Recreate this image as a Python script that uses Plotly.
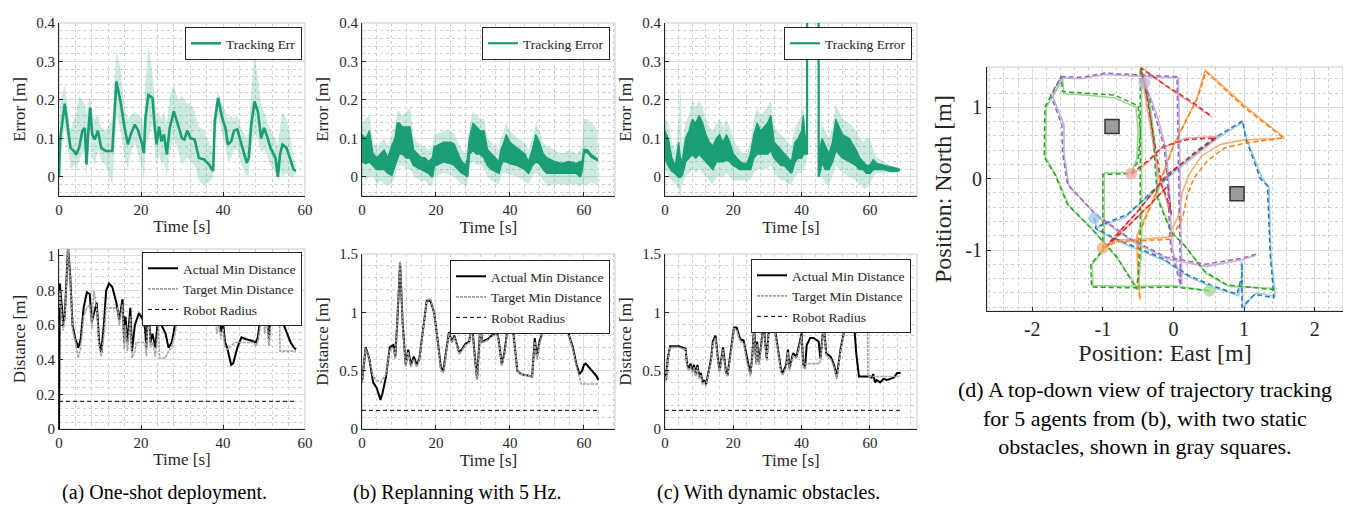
import plotly.graph_objects as go

FONT = "Liberation Serif"
INK = "#262626"
GREEN = "#1b9e77"
GREEN_LIGHT = "rgba(27,158,119,0.22)"

# ---------------- (a) tracking error ----------------
t_err_a = [0, 0.3, 1.4, 2.8, 3.7, 4.2, 4.9, 5.7, 6.3, 6.7, 7.1, 7.6, 8.1, 8.7, 9.5,
           10.3, 11.4, 13, 14, 15, 16, 16.8, 17.5, 18.5, 19.3, 20.3, 20.7, 21.1, 21.8, 22.8,
           23.3, 23.8, 24.4, 25, 25.6, 26.3, 27, 28, 29, 30, 30.6, 31.3, 32.1, 33.1, 34.1,
           35.4, 36.6, 37.6, 38, 38.8, 39.8, 40.6, 41.2, 42, 42.7, 43.5, 44.3, 45.3, 45.8, 46.3,
           46.9, 47.7, 48.5, 49.3, 50, 50.6, 51.6, 52.8, 53.4, 53.9, 54.5, 55.5, 56.5, 57.2, 57.8]
err_a = [0.0, 0.10, 0.19, 0.075, 0.066, 0.058, 0.075, 0.12, 0.127, 0.032, 0.11, 0.18, 0.11, 0.097, 0.12,
         0.075, 0.067, 0.067, 0.248, 0.196, 0.127, 0.084, 0.11, 0.136, 0.12, 0.084, 0.062, 0.153, 0.213, 0.205,
         0.136, 0.084, 0.13, 0.092, 0.11, 0.058, 0.127, 0.17, 0.136, 0.10, 0.097, 0.12, 0.10, 0.097, 0.049,
         0.045, 0.032, 0.015, 0.145, 0.205, 0.153, 0.127, 0.084, 0.092, 0.12, 0.123, 0.092, 0.058, 0.036, 0.05,
         0.136, 0.196, 0.17, 0.10, 0.127, 0.11, 0.075, 0.049, 0.0, 0.058, 0.084, 0.075, 0.04, 0.019, 0.015]
err_a_hi = [0.0, 0.20, 0.24, 0.12, 0.15, 0.17, 0.21, 0.20, 0.19, 0.16, 0.19, 0.21, 0.17, 0.15, 0.16,
            0.13, 0.12, 0.15, 0.33, 0.28, 0.18, 0.15, 0.16, 0.17, 0.16, 0.15, 0.13, 0.25, 0.34, 0.27,
            0.21, 0.16, 0.17, 0.15, 0.17, 0.14, 0.21, 0.24, 0.20, 0.21, 0.20, 0.19, 0.19, 0.17, 0.13,
            0.12, 0.09, 0.06, 0.17, 0.22, 0.19, 0.17, 0.15, 0.16, 0.15, 0.16, 0.13, 0.11, 0.10, 0.12,
            0.22, 0.32, 0.26, 0.19, 0.17, 0.15, 0.12, 0.10, 0.08, 0.13, 0.17, 0.15, 0.10, 0.05, 0.03]
err_a_lo = [0.0, 0.05, 0.13, 0.02, 0.03, 0.02, 0.04, 0.06, 0.07, 0.0, 0.05, 0.12, 0.05, 0.03, 0.07,
            0.04, 0.03, -0.02, 0.16, 0.12, 0.05, 0.02, 0.06, 0.09, 0.06, 0.02, -0.01, 0.08, 0.10, 0.14,
            0.07, 0.03, 0.06, 0.03, 0.04, 0.0, 0.06, 0.10, 0.07, 0.03, 0.04, 0.05, 0.04, 0.03, -0.01,
            -0.02, -0.015, 0.0, 0.10, 0.16, 0.11, 0.08, 0.04, 0.05, 0.07, 0.07, 0.04, 0.01, 0.0, 0.01,
            0.08, 0.11, 0.10, 0.06, 0.07, 0.06, 0.03, 0.01, -0.01, 0.02, 0.0, 0.01, 0.0, 0.0, 0.01]

# ---------------- (b) tracking error (envelopes) ----------------
t_err_b = [0, 1, 2, 3, 4, 5, 6, 7, 8, 8.9, 9.5, 10, 11, 12, 13, 14, 15, 16, 17, 18,
           19, 19.5, 20, 22, 24, 25, 26, 27, 28, 28.5, 29, 30, 31, 32, 33, 34, 35, 36, 37, 37.5,
           38, 39, 40, 42, 44, 45, 46, 47, 48, 49, 50, 52, 54, 56, 58, 59, 59.5, 60, 61, 62, 63, 63.7]
err_b_hi = [0.11, 0.10, 0.12, 0.06, 0.05, 0.06, 0.07, 0.05, 0.08, 0.10, 0.14, 0.14, 0.13, 0.13, 0.13,
            0.07, 0.06, 0.05, 0.05, 0.04, 0.05, 0.08, 0.08, 0.09, 0.09, 0.085, 0.06, 0.04, 0.03, 0.05,
            0.10, 0.14, 0.13, 0.12, 0.12, 0.07, 0.06, 0.05, 0.04, 0.07, 0.08, 0.11, 0.09, 0.075, 0.06,
            0.04, 0.07, 0.11, 0.09, 0.06, 0.05, 0.04, 0.035, 0.04, 0.035, 0.04, 0.04, 0.072, 0.07, 0.058,
            0.052, 0.047]
err_b_lo = [0.04, 0.035, 0.04, 0.03, 0.02, 0.02, 0.02, 0.01, 0.005, 0.03, 0.05, 0.06, 0.06, 0.05, 0.05,
            0.03, 0.025, 0.02, 0.015, 0.01, 0.0, 0.03, 0.03, 0.04, 0.035, 0.03, 0.02, 0.01, 0.005, 0.0,
            0.06, 0.07, 0.06, 0.06, 0.05, 0.03, 0.02, 0.015, 0.01, 0.03, 0.04, 0.04, 0.035, 0.03, 0.02,
            0.01, 0.03, 0.04, 0.035, 0.02, 0.01, 0.01, 0.01, 0.01, 0.01, 0.0, 0.02, 0.064, 0.064, 0.052,
            0.046, 0.043]
band_b_hi = [0.14, 0.15, 0.16, 0.09, 0.08, 0.09, 0.10, 0.08, 0.11, 0.13, 0.17, 0.17, 0.16, 0.17, 0.18,
             0.10, 0.09, 0.08, 0.08, 0.07, 0.08, 0.11, 0.11, 0.12, 0.12, 0.11, 0.09, 0.07, 0.06, 0.08,
             0.13, 0.17, 0.16, 0.15, 0.15, 0.10, 0.09, 0.08, 0.07, 0.10, 0.11, 0.14, 0.12, 0.10, 0.09,
             0.07, 0.10, 0.14, 0.12, 0.09, 0.08, 0.07, 0.06, 0.07, 0.06, 0.07, 0.08, 0.15, 0.15, 0.14,
             0.13, 0.12]
band_b_lo = [0.0, -0.01, 0.0, 0.0, -0.02, -0.01, -0.02, -0.02, -0.02, 0.0, 0.02, 0.03, 0.03, 0.02, 0.02,
             0.0, -0.005, -0.01, -0.01, -0.02, -0.025, 0.0, 0.0, 0.01, 0.005, 0.0, -0.01, -0.02, -0.02, -0.025,
             0.03, 0.04, 0.03, 0.03, 0.02, 0.0, -0.01, -0.015, -0.02, 0.0, 0.01, 0.01, 0.005, 0.0, -0.01,
             -0.02, 0.0, 0.01, 0.005, -0.01, -0.025, -0.02, -0.02, -0.02, -0.02, -0.025, -0.02, -0.02, -0.02, -0.015,
             -0.02, -0.02]

# ---------------- (c) tracking error (envelopes) ----------------
t_err_c = [0, 1, 2, 3, 4, 4.5, 5, 6, 7, 8, 9, 10, 11, 12, 13, 14, 15, 16, 17, 18,
           19, 20, 21, 22, 23, 24, 25, 26, 27, 28, 29, 30, 31, 32, 33, 34, 35, 36, 37, 38,
           39, 40, 40.5, 41.3, 41.6, 41.7, 44.8, 44.9, 45, 46, 47, 48, 49, 50, 51, 52, 54, 56, 57, 58,
           59, 60, 61, 62, 64, 66, 68, 68.6]
err_c_hi = [0.12, 0.10, 0.05, 0.03, 0.09, 0.05, 0.04, 0.10, 0.12, 0.15, 0.14, 0.16, 0.14, 0.11, 0.09,
            0.08, 0.10, 0.11, 0.09, 0.11, 0.09, 0.06, 0.05, 0.04, 0.035, 0.035, 0.06, 0.11, 0.14, 0.12,
            0.13, 0.14, 0.16, 0.09, 0.08, 0.07, 0.06, 0.05, 0.04, 0.09, 0.10, 0.12, 0.16, 0.08, 0.10,
            2.0, 2.0, 2.0, 0.06, 0.10, 0.08, 0.06, 0.09, 0.15, 0.13, 0.11, 0.10, 0.07, 0.05, 0.04,
            0.03, 0.03, 0.045, 0.035, 0.03, 0.025, 0.022, 0.02]
err_c_lo = [0.05, 0.03, 0.015, 0.01, 0.0, 0.0, 0.005, 0.04, 0.05, 0.06, 0.05, 0.06, 0.05, 0.04, 0.03,
            0.02, 0.04, 0.04, 0.04, 0.045, 0.04, 0.03, 0.025, 0.02, 0.02, 0.02, 0.02, 0.05, 0.06, 0.06,
            0.06, 0.06, 0.07, 0.05, 0.04, 0.03, 0.03, 0.02, 0.01, 0.04, 0.05, 0.05, 0.06, 0.06, 0.06,
            2.0, 2.0, 2.0, 0.0, 0.04, 0.02, 0.02, 0.04, 0.07, 0.06, 0.05, 0.04, 0.03, 0.02, 0.02,
            0.01, 0.01, 0.02, 0.02, 0.02, 0.015, 0.015, 0.017]
band_c_hi = [0.15, 0.14, 0.09, 0.07, 0.14, 0.26, 0.08, 0.14, 0.16, 0.20, 0.18, 0.20, 0.18, 0.15, 0.13,
             0.12, 0.14, 0.15, 0.13, 0.15, 0.13, 0.10, 0.08, 0.07, 0.06, 0.06, 0.09, 0.15, 0.18, 0.16,
             0.17, 0.18, 0.20, 0.13, 0.12, 0.11, 0.10, 0.09, 0.08, 0.13, 0.14, 0.16, 0.19, 0.10, 0.10,
             2.0, 2.0, 2.0, 0.06, 0.14, 0.12, 0.10, 0.13, 0.19, 0.17, 0.15, 0.14, 0.12, 0.10, 0.09,
             0.10, 0.10, 0.07, 0.05, 0.04, 0.03, 0.025, 0.02]
band_c_lo = [0.02, 0.0, -0.01, -0.02, -0.03, -0.06, -0.02, 0.0, 0.01, 0.02, 0.01, 0.02, 0.01, 0.0, -0.01,
             -0.02, 0.0, 0.0, 0.0, 0.01, 0.0, -0.01, -0.01, -0.01, -0.01, -0.01, -0.01, 0.01, 0.02, 0.02,
             0.02, 0.02, 0.03, 0.01, 0.0, -0.01, -0.01, -0.02, -0.02, 0.0, 0.01, 0.01, 0.02, 0.03, 0.06,
             2.0, 2.0, 2.0, 0.0, 0.0, -0.02, -0.02, 0.0, 0.03, 0.02, 0.01, 0.0, -0.01, -0.02, -0.03,
             -0.03, -0.02, 0.0, 0.01, 0.01, 0.01, 0.01, 0.015]

# ---------------- (a) distances ----------------
t_dist_a = [0, 0.05, 0.2, 0.8, 1.0, 1.4, 2.2, 2.7, 3.3, 4.0, 4.7, 5.3, 6.0, 6.8, 7.5, 8.0, 8.5, 9.2, 9.8, 10.3,
            11.0, 11.5, 12.2, 13.0, 14.0, 14.7, 15.5, 15.9, 16.2, 16.7, 17.4, 17.8, 18.5, 19.5, 20.5, 21.0, 21.3, 21.8, 22.3, 22.8,
            23.5, 24.3, 25.0, 26.0, 26.7, 27.5, 28.3, 29.0, 29.5, 34.0, 38.0, 38.5, 39.0, 39.5, 40.0, 40.5, 41.0, 41.5, 42.0, 42.5,
            43.5, 44.5, 45.5, 47.0, 48.0, 48.5, 49.0, 49.5, 50.2, 50.6, 51.2, 51.7, 52.2, 53.0, 54.0, 54.5, 55.5, 56.5, 57.3, 57.8]
actual_a = [0.0, 0.84, 0.84, 0.68, 0.6, 0.65, 1.05, 0.9, 0.6, 0.52, 0.47, 0.52, 0.7, 0.79, 0.78, 0.62, 0.66, 0.73, 0.5, 0.44,
            0.62, 0.8, 0.84, 0.82, 0.73, 0.63, 0.75, 0.5, 0.65, 0.5, 0.7, 0.45, 0.6, 0.67, 0.63, 0.58, 0.47, 0.76, 0.5, 0.55,
            0.47, 0.68, 0.6, 0.55, 0.47, 0.5, 0.6, 0.7, 0.85, 0.95, 0.72, 0.6, 0.65, 0.56, 0.62, 0.5, 0.47, 0.42, 0.37, 0.38,
            0.47, 0.53, 0.52, 0.51, 0.5, 0.53, 0.62, 0.75, 0.6, 0.7, 0.52, 0.68, 0.72, 0.8, 0.8, 0.62, 0.56, 0.5, 0.47, 0.46]
t_target_a = [0, 0.2, 0.8, 1.0, 1.4, 2.2, 2.7, 3.3, 4.0, 4.7, 5.3, 6.0, 6.8, 7.5, 8.0, 8.5, 9.2, 9.8, 10.3, 11.0,
              11.5, 14.3, 14.7, 15.5, 15.9, 16.2, 16.7, 17.4, 17.8, 18.5, 18.8, 20.3, 21.0, 21.3, 21.8, 22.3, 22.8, 23.5, 24.3, 24.5,
              26.0, 26.7, 27.5, 28.3, 29.0, 29.5, 34.0, 38.0, 38.5, 39.0, 39.5, 40.0, 40.5, 41.0, 43.0, 47.5, 48.0, 48.5, 49.0, 49.5,
              50.2, 50.6, 51.2, 51.7, 52.0, 53.8, 53.9, 57.8]
target_a = [0.7, 0.8, 0.62, 0.57, 0.63, 1.05, 0.88, 0.58, 0.5, 0.41, 0.47, 0.65, 0.7, 0.72, 0.58, 0.8, 0.7, 0.47, 0.42, 0.55,
            0.7, 0.7, 0.6, 0.72, 0.46, 0.6, 0.45, 0.65, 0.41, 0.45, 0.5, 0.5, 0.5, 0.42, 0.72, 0.47, 0.5, 0.42, 0.6, 0.41,
            0.41, 0.45, 0.47, 0.55, 0.65, 0.85, 0.9, 0.68, 0.55, 0.6, 0.52, 0.58, 0.47, 0.46, 0.5, 0.5, 0.48, 0.5, 0.58, 0.72,
            0.55, 0.68, 0.48, 0.62, 0.69, 0.69, 0.45, 0.45]

# ---------------- (b) distances ----------------
t_dist_b = [0, 0.5, 1.0, 1.5, 2.0, 3.0, 4.0, 5.0, 5.5, 6.5, 7.5, 8.5, 9.0, 9.5, 10.3, 11.0, 11.8, 12.5, 13.2, 14.0,
            14.8, 15.5, 16.5, 17.5, 18.5, 19.5, 20.5, 21.3, 22.0, 22.5, 23.5, 24.3, 25.0, 26.3, 27.0, 28.0, 29.0, 29.7, 30.5, 31.1,
            32.0, 32.5, 34.0, 35.0, 36.5, 37.0, 37.8, 38.5, 39.5, 40.3, 41.0, 42.0, 43.0, 45.0, 46.0, 46.7, 47.3, 48.0, 49.0, 50.0,
            51.0, 52.0, 53.0, 54.0, 55.0, 56.0, 57.0, 58.0, 58.8, 59.5, 60.0, 60.5, 61.5, 62.5, 63.5, 63.9]
actual_b = [0.4, 0.55, 0.7, 0.65, 0.6, 0.4, 0.35, 0.25, 0.3, 0.45, 0.7, 0.72, 0.62, 0.9, 1.42, 0.9, 0.55, 0.68, 0.55, 0.62,
            0.55, 0.6, 0.85, 1.1, 1.1, 1.0, 0.75, 0.53, 0.5, 0.6, 0.83, 0.75, 0.8, 0.65, 0.68, 0.73, 0.75, 0.92, 0.62, 0.43,
            0.88, 0.75, 0.77, 0.8, 0.83, 0.75, 0.55, 0.65, 0.9, 1.05, 0.8, 0.5, 0.47, 0.46, 0.45, 0.78, 0.62, 0.75, 0.85, 1.0,
            0.95, 0.93, 1.0, 1.05, 1.0, 0.8, 0.7, 0.55, 0.47, 0.5, 0.55, 0.56, 0.52, 0.48, 0.45, 0.42]
t_target_b = [0, 0.5, 1.0, 1.5, 2.0, 3.0, 4.0, 5.0, 5.5, 6.5, 7.5, 8.5, 9.0, 9.5, 10.3, 11.0, 11.8, 12.5, 13.2, 14.0,
              14.8, 15.5, 16.5, 17.5, 18.5, 19.5, 20.5, 21.3, 22.0, 22.5, 23.5, 24.3, 25.0, 26.3, 27.0, 28.0, 29.0, 29.7, 30.5, 31.1,
              32.0, 32.5, 34.0, 35.0, 36.5, 37.0, 37.8, 38.5, 39.5, 40.3, 41.0, 42.0, 43.0, 45.0, 46.0, 46.7, 47.3, 48.0, 49.0, 50.0,
              51.0, 52.0, 53.0, 54.0, 55.0, 56.0, 57.0, 58.0, 58.8, 59.3, 63.9]
target_b = [0.4, 0.55, 0.69, 0.64, 0.6, 0.45, 0.42, 0.4, 0.42, 0.47, 0.68, 0.7, 0.6, 0.88, 1.44, 0.88, 0.53, 0.66, 0.53, 0.6,
            0.53, 0.59, 0.85, 1.1, 1.12, 1.0, 0.75, 0.5, 0.48, 0.58, 0.82, 0.74, 0.79, 0.64, 0.67, 0.72, 0.74, 0.93, 0.6, 0.42,
            0.87, 0.74, 0.76, 0.79, 0.82, 0.74, 0.54, 0.63, 0.88, 1.05, 0.79, 0.5, 0.47, 0.46, 0.45, 0.75, 0.6, 0.73, 0.84, 1.0,
            0.94, 0.92, 1.0, 1.05, 1.0, 0.8, 0.68, 0.53, 0.45, 0.386, 0.386]

# ---------------- (c) distances ----------------
t_dist_c = [0, 0.3, 0.8, 1.5, 4.0, 6.0, 6.5, 7.0, 7.5, 8.0, 8.5, 9.0, 9.5, 10.0, 10.5, 11.0, 11.5, 12.0, 12.5, 13.5,
            14.0, 14.8, 15.5, 16.0, 17.0, 17.8, 18.3, 19.0, 20.2, 21.0, 22.0, 23.0, 24.0, 25.0, 25.5, 26.1, 26.7, 27.0, 27.5, 28.5,
            28.8, 29.3, 29.8, 30.5, 31.0, 31.5, 32.5, 33.5, 34.0, 34.5, 35.5, 36.0, 36.5, 37.5, 38.5, 39.5, 40.0, 40.5, 41.0, 41.5,
            42.5, 43.5, 45.0, 45.5, 46.5, 47.2, 48.5, 49.5, 50.3, 51.5, 53.0, 54.0, 55.0, 56.0, 56.8, 58.0, 60.0, 60.5, 61.0, 61.5,
            62.0, 63.0, 64.0, 65.0, 66.0, 67.0, 68.0, 69.0]
actual_c = [0.47, 0.42, 0.6, 0.71, 0.71, 0.69, 0.55, 0.52, 0.56, 0.5, 0.55, 0.47, 0.55, 0.45, 0.48, 0.4, 0.42, 0.38, 0.45, 0.6,
            0.75, 0.8, 0.6, 0.5, 0.7, 0.5, 0.46, 0.6, 0.87, 0.87, 0.77, 0.76, 0.6, 0.47, 0.6, 0.88, 0.57, 0.75, 0.57, 0.8,
            1.05, 0.75, 0.6, 0.85, 1.1, 0.95, 0.8, 0.6, 0.5, 0.48, 0.55, 0.68, 0.52, 0.65, 0.62, 0.75, 0.82, 0.55, 0.52, 0.72,
            0.78, 0.78, 0.75, 0.6, 0.9, 0.65, 0.62, 0.55, 0.45, 0.7, 0.9, 1.05, 1.05, 0.65, 0.45, 0.45, 0.45, 0.44, 0.47, 0.4,
            0.42, 0.4, 0.43, 0.42, 0.43, 0.44, 0.48, 0.48]
t_target_c = [0, 0.3, 0.8, 1.5, 4.0, 6.0, 6.5, 7.0, 7.5, 8.0, 8.5, 9.0, 9.5, 10.0, 10.5, 11.0, 11.5, 12.0, 12.5, 13.5,
              14.0, 14.8, 15.5, 16.0, 17.0, 17.8, 18.3, 19.0, 20.2, 21.0, 22.0, 23.0, 24.0, 25.0, 25.5, 26.1, 26.7, 27.0, 27.5, 28.5,
              28.8, 29.3, 29.8, 30.5, 31.0, 31.5, 32.5, 33.5, 34.0, 34.5, 35.5, 36.0, 36.5, 37.5, 38.5, 39.5, 40.0, 40.5, 41.0, 41.1,
              45.3, 45.5, 46.5, 47.2, 48.5, 49.5, 50.3, 51.5, 53.0, 54.0, 55.0, 59.3, 59.4, 69.0]
target_c = [0.45, 0.41, 0.58, 0.7, 0.7, 0.68, 0.53, 0.5, 0.54, 0.48, 0.53, 0.45, 0.53, 0.43, 0.46, 0.38, 0.4, 0.37, 0.44, 0.58,
            0.73, 0.78, 0.58, 0.48, 0.68, 0.48, 0.45, 0.58, 0.86, 0.85, 0.75, 0.74, 0.58, 0.45, 0.58, 0.86, 0.55, 0.73, 0.55, 0.78,
            1.04, 0.73, 0.58, 0.83, 1.08, 0.93, 0.78, 0.58, 0.48, 0.46, 0.53, 0.66, 0.5, 0.63, 0.6, 0.73, 0.8, 0.53, 0.52, 0.56,
            0.56, 0.6, 0.88, 0.63, 0.6, 0.53, 0.43, 0.68, 0.88, 1.04, 1.1, 1.1, 0.45, 0.45]

robot_radius = 0.16
radius_span_a = [0, 57.8]
radius_span_b = [0, 63.9]
radius_span_c = [0, 69.0]

# ---------------- (d) trajectories (East, North) ----------------
blue_ref_x = [-1.12, -1.10, -0.80, -0.50, -0.15, 0.20, 0.55, 0.90, 0.97, 0.97, 0.97, 1.15, 1.42, 1.40, 1.37, 1.33, 1.23, 1.02, 0.98, 0.58, 0.30, 0.05, -0.30, -0.65, -1.05]
blue_ref_y = [-0.55, -0.70, -0.85, -0.97, -1.12, -1.35, -1.50, -1.62, -1.35, -1.18, -1.80, -1.62, -1.67, -1.40, -1.07, -0.10, 0.00, 0.57, 0.81, 0.57, 0.37, 0.15, -0.17, -0.50, -0.66]
blue_act_x = [-1.12, -1.08, -0.78, -0.48, -0.12, 0.22, 0.57, 0.92, 0.98, 0.96, 0.98, 1.17, 1.44, 1.42, 1.38, 1.35, 1.25, 1.04, 0.98, 0.60, 0.32, 0.02, -0.33, -0.68, -1.07]
blue_act_y = [-0.55, -0.72, -0.88, -1.00, -1.15, -1.38, -1.53, -1.64, -1.37, -1.16, -1.82, -1.60, -1.65, -1.42, -1.09, -0.12, 0.02, 0.55, 0.79, 0.55, 0.33, 0.10, -0.22, -0.54, -0.68]

orange_ref_x = [-1.00, -0.79, -0.46, -0.04, 0.13, 0.20, 0.29, 0.48, 0.72, 1.02, 1.56, 1.00, 0.46, 0.34, 0.01, -0.27, -0.50, -0.50, -0.48]
orange_ref_y = [-0.97, -0.88, -0.87, -0.85, -0.55, -0.22, 0.01, 0.25, 0.43, 0.50, 0.57, 1.00, 1.50, 1.13, 0.48, -0.27, -0.80, -1.20, -1.67]
orange_act_x = [-1.00, -0.80, -0.46, -0.07, 0.07, 0.13, 0.22, 0.40, 0.66, 0.98, 1.57, 1.01, 0.45, 0.33, 0.00, -0.28, -0.52, -0.51, -0.47]
orange_act_y = [-0.97, -0.86, -0.85, -0.82, -0.52, -0.18, 0.06, 0.32, 0.48, 0.54, 0.57, 1.02, 1.52, 1.12, 0.47, -0.28, -0.80, -1.20, -1.70]

red_ref_x = [-0.60, -0.35, -0.15, 0.20, 0.60, 0.30, -0.10, -0.50, -0.80, -1.02, -0.70, -0.35, -0.08, -0.03, -0.10, -0.17, -0.27, -0.35, -0.41, -0.46, -0.10, 0.30, 0.53]
red_ref_y = [0.07, 0.26, 0.45, 0.55, 0.57, 0.35, 0.05, -0.45, -0.78, -1.02, -0.72, -0.38, -0.10, -0.50, -0.25, -0.08, 0.52, 1.00, 1.34, 1.55, 1.30, 1.05, 0.88]
red_act_x = [-0.60, -0.37, -0.18, 0.18, 0.62, 0.28, -0.12, -0.52, -0.82, -1.00, -0.68, -0.33, -0.06, -0.05, -0.12, -0.19, -0.29, -0.37, -0.43, -0.47, -0.08, 0.32, 0.55]
red_act_y = [0.05, 0.22, 0.42, 0.57, 0.59, 0.33, 0.02, -0.48, -0.80, -1.00, -0.70, -0.36, -0.08, -0.48, -0.24, -0.06, 0.50, 1.00, 1.35, 1.57, 1.28, 1.02, 0.86]

purple_ref_x = [-0.41, -0.33, -0.25, -0.13, -0.08, -0.06, -0.04, 0.10, 0.09, 0.07, 0.06, 0.05, -0.40, -0.97, -1.30, -1.59, -1.74, -1.58, -1.57, -1.50, -1.10, -0.60, -0.10, 0.45, 0.95, 1.17]
purple_ref_y = [1.34, 1.10, 0.85, 0.43, -0.10, -0.60, -0.97, -1.50, -0.80, 0.00, 0.70, 1.43, 1.45, 1.48, 1.42, 1.43, 1.17, 0.76, 0.35, -0.08, -0.50, -0.85, -1.10, -1.20, -1.12, -1.06]
purple_act_x = [-0.41, -0.31, -0.22, -0.11, -0.06, -0.04, -0.02, 0.12, 0.11, 0.09, 0.08, 0.07, -0.40, -0.97, -1.30, -1.57, -1.71, -1.55, -1.55, -1.48, -1.08, -0.58, -0.08, 0.47, 0.96, 1.15]
purple_act_y = [1.34, 1.10, 0.85, 0.43, -0.10, -0.60, -0.97, -1.48, -0.80, 0.00, 0.70, 1.41, 1.43, 1.46, 1.40, 1.41, 1.15, 0.76, 0.35, -0.10, -0.53, -0.88, -1.13, -1.23, -1.14, -1.08]

green_ref_x = [0.51, 0.00, -0.60, -1.16, -1.17, -1.00, -1.00, -1.00, -0.60, -0.50, -0.47, -0.50, -0.83, -1.20, -1.57, -1.59, -1.82, -1.83, -1.68, -1.50, -1.16, -0.80, -0.52, -0.47, -0.47, -0.47, -0.47, -0.35, -0.28, -0.23, -0.04, 0.15, 0.44, 0.76, 1.47]
green_ref_y = [-1.57, -1.52, -1.53, -1.52, -1.20, -1.00, -0.50, 0.06, 0.07, 0.25, 0.65, 1.02, 1.17, 1.20, 1.22, 1.43, 1.00, 0.30, 0.06, -0.36, -0.70, -1.10, -1.55, -1.00, 0.00, 1.00, 1.55, 1.05, 0.50, -0.27, -0.74, -0.93, -1.30, -1.49, -1.56]
green_act_x = [0.51, 0.00, -0.60, -1.14, -1.15, -0.98, -0.98, -0.98, -0.60, -0.52, -0.50, -0.53, -0.83, -1.20, -1.55, -1.57, -1.80, -1.81, -1.66, -1.48, -1.14, -0.79, -0.50, -0.45, -0.45, -0.45, -0.45, -0.33, -0.26, -0.21, -0.02, 0.17, 0.46, 0.78, 1.47]
green_act_y = [-1.57, -1.50, -1.51, -1.50, -1.20, -1.00, -0.50, 0.08, 0.09, 0.27, 0.66, 1.00, 1.13, 1.17, 1.19, 1.40, 1.00, 0.30, 0.04, -0.38, -0.72, -1.12, -1.55, -1.00, 0.00, 1.00, 1.53, 1.03, 0.48, -0.29, -0.76, -0.95, -1.33, -1.51, -1.54]

obstacle_x = [-0.87, 0.90]
obstacle_y = [0.73, -0.21]

east_ticks = [-2, -1, 0, 1, 2]
east_labels = ["-2", "-1", "0", "1", "2"]
north_ticks = [-1, 0, 1]
north_labels = ["-1", "0", "1"]

captions = ["(a) One-shot deployment.", "(b) Replanning with 5\u2009Hz.", "(c) With dynamic obstacles."]
caption_d = "(d) A top-down view of trajectory tracking<br>for 5 agents from (b), with two static<br>obstacles, shown in gray squares."

# ====================================================================
W, H = 1351, 506
fig = go.Figure()


def px_x(a, b):
    return [a / W, b / W]


def px_y(top, bottom):
    return [1 - bottom / H, 1 - top / H]


def axis(domain, rng, dtick, mdtick, title, anchor, tfs=15, tls=17, standoff=3, tickvals=None, ticktext=None):
    d = dict(domain=domain, range=rng, anchor=anchor, showline=True, linecolor=INK, linewidth=1,
             mirror=False, ticks="inside", ticklen=4, tickcolor=INK, tickwidth=1,
             showgrid=True, gridcolor="#dcdcdc", gridwidth=1, zeroline=False,
             minor=dict(dtick=mdtick, tick0=0, showgrid=True, gridcolor="#cfcfcf", griddash="dot", gridwidth=1),
             tickfont=dict(family=FONT, size=tfs, color=INK),
             title=dict(text=title, font=dict(family=FONT, size=tls, color=INK), standoff=standoff),
             automargin=False, fixedrange=True)
    if tickvals is not None:
        d.update(tickmode="array", tickvals=tickvals, ticktext=ticktext)
    else:
        d.update(tick0=0, dtick=dtick)
    return d


XT = {"a": px_x(51, 297), "b": px_x(354, 607), "c": px_x(657, 909)}
YT = px_y(15, 188)
YB_a = px_y(241, 421)
YB_bc = px_y(246, 421)
xranges = {"a": [0, 60], "b": [0, 68.4], "c": [0, 73.8]}

layout = dict(width=W, height=H, margin=dict(l=0, r=0, t=0, b=0), paper_bgcolor="white",
              plot_bgcolor="white", showlegend=True)

for i, k in enumerate(["a", "b", "c"]):
    n = i + 1
    m = i + 4
    sfx = "" if n == 1 else str(n)
    layout[f"xaxis{sfx}"] = axis(XT[k], xranges[k], 20, 4, "Time [s]", f"y{sfx}")
    layout[f"yaxis{sfx}"] = axis(YT, [-0.05, 0.4], 0.1, 0.02, "Error [m]", f"x{sfx}", standoff=6)
    layout[f"xaxis{m}"] = axis(XT[k], xranges[k], 20, 4, "Time [s]", f"y{m}")
    if k == "a":
        layout[f"yaxis{m}"] = axis(YB_a, [0, 1.04], 0.2, 0.04, "Distance [m]", f"x{m}", standoff=6)
    else:
        layout[f"yaxis{m}"] = axis(YB_bc, [0, 1.5], 0.5, 0.1, "Distance [m]", f"x{m}", standoff=6)

layout["xaxis7"] = axis(px_x(979, 1335), [-2.64, 2.40], 1, 0.2, "Position: East [m]", "y7",
                        tfs=20, tls=24, standoff=5, tickvals=east_ticks, ticktext=east_labels)
layout["yaxis7"] = axis(px_y(59, 303), [-1.855, 1.565], 1, 0.2, "Position: North [m]", "x7",
                        tfs=20, tls=24, standoff=6, tickvals=north_ticks, ticktext=north_labels)

shapes = []
for n in ["", "2", "3", "4", "5", "6", "7"]:
    shapes.append(dict(type="rect", xref=f"x{n} domain", yref=f"y{n} domain", x0=0, x1=1, y0=0, y1=1,
                       line=dict(color="#c8c8c8", width=1), layer="below"))
layout["shapes"] = shapes


def legend_box(xr, yt):
    return dict(x=xr / W, y=1 - yt / H, xanchor="right", yanchor="top", bgcolor="white",
                bordercolor=INK, borderwidth=1, font=dict(family=FONT, size=13.5, color=INK),
                tracegroupgap=0, itemwidth=30, itemclick=False)


layout["legend"] = legend_box(294, 19)
layout["legend2"] = legend_box(602, 19)
layout["legend3"] = legend_box(904, 19)
layout["legend4"] = legend_box(294, 244)
layout["legend5"] = legend_box(602, 252)
layout["legend6"] = legend_box(903, 251)


def poly(t, hi, lo, xa, ya, color, linew=0):
    return go.Scatter(x=list(t) + list(t)[::-1], y=list(hi) + list(lo)[::-1], fill="toself",
                      fillcolor=color, line=dict(color=GREEN, width=linew), mode="lines",
                      xaxis=xa, yaxis=ya, showlegend=False, hoverinfo="skip")


fig.add_trace(poly(t_err_a, err_a_hi, err_a_lo, "x", "y", GREEN_LIGHT))
fig.add_trace(go.Scatter(x=t_err_a, y=err_a, mode="lines", line=dict(color=GREEN, width=2.6),
                         name="Tracking Err", xaxis="x", yaxis="y", legend="legend"))
fig.add_trace(poly(t_err_b, band_b_hi, band_b_lo, "x2", "y2", GREEN_LIGHT))
fig.add_trace(poly(t_err_b, err_b_hi, err_b_lo, "x2", "y2", GREEN, linew=1.2))
fig.add_trace(go.Scatter(x=t_err_b, y=err_b_lo, mode="lines", line=dict(color=GREEN, width=2.2),
                         name="Tracking Error", xaxis="x2", yaxis="y2", legend="legend2"))
fig.add_trace(poly(t_err_c, band_c_hi, band_c_lo, "x3", "y3", GREEN_LIGHT))
fig.add_trace(poly(t_err_c, err_c_hi, err_c_lo, "x3", "y3", GREEN, linew=1.2))
fig.add_trace(go.Scatter(x=t_err_c, y=err_c_lo, mode="lines", line=dict(color=GREEN, width=2.2),
                         name="Tracking Error", xaxis="x3", yaxis="y3", legend="legend3"))

for (ta, da, tg, dg, span, xa, ya, lg) in [
    (t_dist_a, actual_a, t_target_a, target_a, radius_span_a, "x4", "y4", "legend4"),
    (t_dist_b, actual_b, t_target_b, target_b, radius_span_b, "x5", "y5", "legend5"),
    (t_dist_c, actual_c, t_target_c, target_c, radius_span_c, "x6", "y6", "legend6"),
]:
    fig.add_trace(go.Scatter(x=ta, y=da, mode="lines", line=dict(color="black", width=2),
                             name="Actual Min Distance", xaxis=xa, yaxis=ya, legend=lg))
    fig.add_trace(go.Scatter(x=tg, y=dg, mode="lines", line=dict(color="#a3a3a3", width=1.6, dash="3px,1px"),
                             name="Target Min Distance", xaxis=xa, yaxis=ya, legend=lg))
    fig.add_trace(go.Scatter(x=span, y=[robot_radius, robot_radius], mode="lines",
                             line=dict(color="black", width=1, dash="4px,3px"),
                             name="Robot Radius", xaxis=xa, yaxis=ya, legend=lg))

agents = [
    (blue_act_x, blue_act_y, blue_ref_x, blue_ref_y, "#9ecae1", "#1f77b4"),
    (orange_act_x, orange_act_y, orange_ref_x, orange_ref_y, "#fdae6b", "#ff7f0e"),
    (green_act_x, green_act_y, green_ref_x, green_ref_y, "#98d98e", "#2ca02c"),
    (red_act_x, red_act_y, red_ref_x, red_ref_y, "#f4a3a3", "#d62728"),
    (purple_act_x, purple_act_y, purple_ref_x, purple_ref_y, "#c5b0d5", "#9467bd"),
]
for ax_, ay_, rx_, ry_, light, dark in agents:
    fig.add_trace(go.Scatter(x=ax_, y=ay_, mode="lines", line=dict(color=light, width=1.6),
                             xaxis="x7", yaxis="y7", showlegend=False, hoverinfo="skip"))
for ax_, ay_, rx_, ry_, light, dark in agents:
    fig.add_trace(go.Scatter(x=rx_, y=ry_, mode="lines", line=dict(color=dark, width=1.5, dash="5px,3px"),
                             xaxis="x7", yaxis="y7", showlegend=False, hoverinfo="skip"))
for ax_, ay_, rx_, ry_, light, dark in agents:
    fig.add_trace(go.Scatter(x=[rx_[0]], y=[ry_[0]], mode="markers",
                             marker=dict(color=light, size=12, opacity=0.75, line=dict(width=0)),
                             xaxis="x7", yaxis="y7", showlegend=False, hoverinfo="skip"))
fig.add_trace(go.Scatter(x=obstacle_x, y=obstacle_y, mode="markers",
                         marker=dict(symbol="square", size=14, color="#9b9b9b", line=dict(color="#333333", width=1.5)),
                         xaxis="x7", yaxis="y7", showlegend=False, hoverinfo="skip"))

annotations = []
for txt, cx in zip(captions, [156, 449, 760]):
    annotations.append(dict(text=txt, x=cx / W, y=1 - 484 / H, xref="paper", yref="paper",
                            xanchor="center", yanchor="middle", showarrow=False,
                            font=dict(family=FONT, size=20, color="black")))
annotations.append(dict(text=caption_d, x=1137 / W, y=1 - 410 / H, xref="paper", yref="paper",
                        xanchor="center", yanchor="middle", showarrow=False, align="center",
                        font=dict(family=FONT, size=22, color="black")))
layout["annotations"] = annotations

fig.update_layout(**layout)
fig.write_html("out.html")
